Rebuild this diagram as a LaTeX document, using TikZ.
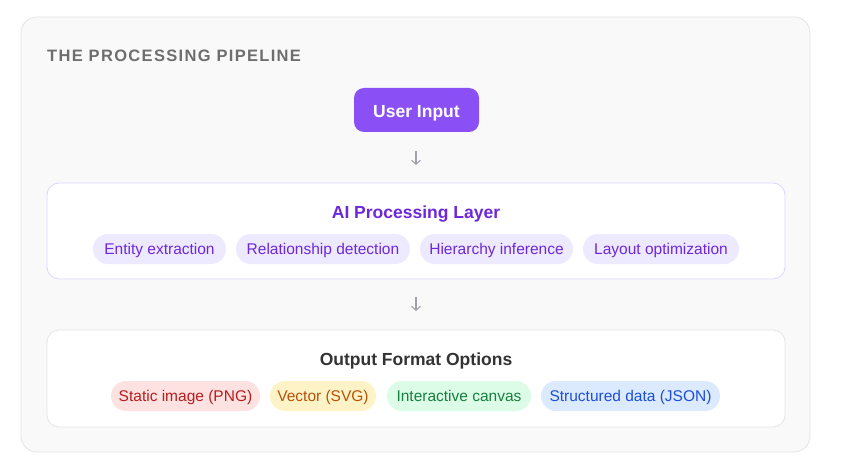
\documentclass[tikz,border=0pt]{standalone}
\usepackage{fontspec}
\setmainfont{Liberation Sans}
\newfontfamily\titlefont[LetterSpace=8]{Liberation Sans}
\usetikzlibrary{arrows.meta}
\definecolor{outerfill}{HTML}{F9F9FA}
\definecolor{outerline}{HTML}{E4E4E7}
\definecolor{btnfill}{HTML}{8B50F5}
\definecolor{titlegray}{HTML}{6E6E6E}
\definecolor{arrowgray}{HTML}{A1A1AA}
\definecolor{ailine}{HTML}{DDD6FE}
\definecolor{aitext}{HTML}{6D28D9}
\definecolor{aipill}{HTML}{EDE9FE}
\definecolor{outline}{HTML}{E5E5E5}
\definecolor{outtitle}{HTML}{333333}
\definecolor{redfill}{HTML}{FEE2E2}\definecolor{redtext}{HTML}{B91C1C}
\definecolor{yelfill}{HTML}{FEF3C7}\definecolor{yeltext}{HTML}{B45309}
\definecolor{grnfill}{HTML}{DCFCE7}\definecolor{grntext}{HTML}{15803D}
\definecolor{blufill}{HTML}{DBEAFE}\definecolor{blutext}{HTML}{1D4ED8}
\tikzset{
  pill/.style={rounded corners=15pt, minimum height=30pt, inner sep=0pt, text height=10.8pt, text depth=0pt, font=\fontsize{15.5}{18}\selectfont},
  layerbox/.style={rounded corners=12pt, fill=white, line width=0.8pt},
  layertitle/.style={inner sep=0pt, text height=12.5pt, text depth=0pt, font=\bfseries\fontsize{17.5}{20}\selectfont},
  flowarrow/.style={draw=arrowgray, line width=1.1pt, -{Straight Barb[length=4pt,width=9pt]}},
}
\begin{document}
\begin{tikzpicture}[x=1pt,y=-1pt]
\useasboundingbox (0,0) rectangle (843,476);
\fill[white] (0,0) rectangle (843,476);
\draw[fill=outerfill, draw=outerline, line width=0.8pt, rounded corners=16pt] (21,17) rectangle (810,452);
\node[anchor=west, text=titlegray, font=\titlefont\bfseries\fontsize{16.5}{19}\selectfont, inner sep=0pt, text height=11.8pt, text depth=0pt] (title) at (47,55.3) {THE PROCESSING PIPELINE};
% user input
\node[fill=btnfill, rounded corners=10pt, minimum width=125pt, minimum height=44pt, inner sep=0pt, text=white, text height=14.5pt, text depth=0pt, font=\bfseries\fontsize{17.5}{20}\selectfont] (user) at (416.5,110) {User Input};
% AI layer
\node[layerbox, draw=ailine, minimum width=738pt, minimum height=96pt, inner sep=0pt] (ai) at (416,231) {};
\node[layertitle, text=aitext] (aititle) at (416,212) {AI Processing Layer};
\node[pill, fill=aipill, text=aitext, minimum width=133pt] (p1) at (159.5,249) {Entity extraction};
\node[pill, fill=aipill, text=aitext, minimum width=174pt] (p2) at (323,249) {Relationship detection};
\node[pill, fill=aipill, text=aitext, minimum width=153pt] (p3) at (496.5,249) {Hierarchy inference};
\node[pill, fill=aipill, text=aitext, minimum width=156pt] (p4) at (661,249) {Layout optimization};
% output
\node[layerbox, draw=outline, minimum width=738pt, minimum height=97pt, inner sep=0pt] (out) at (416,378.5) {};
\node[layertitle, text=outtitle] (outtitle) at (416,359) {Output Format Options};
\node[pill, fill=redfill, text=redtext, minimum width=149pt] (o1) at (185.5,396) {Static image (PNG)};
\node[pill, fill=yelfill, text=yeltext, minimum width=106pt] (o2) at (323,396) {Vector (SVG)};
\node[pill, fill=grnfill, text=grntext, minimum width=144pt] (o3) at (459,396) {Interactive canvas};
\node[pill, fill=blufill, text=blutext, minimum width=179pt] (o4) at (630.5,396) {Structured data (JSON)};
% arrows
\coordinate (a1s) at (416,151);
\coordinate (a1e) at (416,165);
\coordinate (a2s) at (416,297);
\coordinate (a2e) at (416,311);
\draw[flowarrow] (a1s) -- (a1e);
\draw[flowarrow] (a2s) -- (a2e);
\end{tikzpicture}
\end{document}
